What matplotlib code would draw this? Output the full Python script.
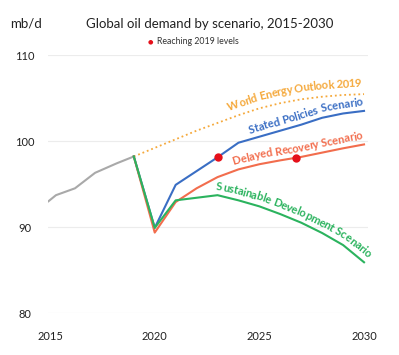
import numpy as np
import matplotlib

matplotlib.use("Agg")
import matplotlib.pyplot as plt
from matplotlib.font_manager import FontProperties

plt.rcParams["font.family"] = ["Lato", "DejaVu Sans"]

# historical demand (mb/d)
hist_years = [2014.9, 2015.28, 2016.19, 2017.15, 2018.18, 2019]
hist_vals = [92.95, 93.7, 94.5, 96.3, 97.4, 98.2]

years = [2019, 2020, 2021, 2022, 2023, 2024, 2025, 2026, 2027, 2028, 2029, 2030]
weo_2019 = [98.2, 99.2, 100.2, 101.2, 102.1, 103.0, 103.8, 104.4, 104.85, 105.15, 105.35, 105.45]
stated = [98.2, 89.9, 94.9, 96.5, 98.1, 99.8, 100.5, 101.2, 101.9, 102.7, 103.2, 103.5]
delayed = [98.2, 89.35, 92.9, 94.5, 95.8, 96.7, 97.3, 97.75, 98.15, 98.65, 99.15, 99.6]
sustainable = [98.2, 89.9, 93.1, 93.4, 93.7, 93.1, 92.4, 91.5, 90.5, 89.3, 87.9, 85.9]

# points where demand gets back to 2019 level
reach_years = [2023, 2026.75]
reach_vals = [98.1, 98.05]

x_ticks = [2015, 2020, 2025, 2030]
y_ticks = [80, 90, 100, 110]

C_GREY = "#a9a9a9"
C_WEO = "#f5a93c"
C_STEPS = "#3a6ec4"
C_DRS = "#f26d4d"
C_SDS = "#2bb35e"
C_DOT = "#e5101a"

fig = plt.figure(figsize=(3.99, 3.55), dpi=100)
ax = fig.add_axes([48 / 399, 42 / 355, 320 / 399, 258 / 355])
ax.set_xlim(2014.9, 2030.19)
ax.set_ylim(80, 110)

ax.plot(hist_years, hist_vals, color=C_GREY, lw=1.5, solid_capstyle="round")
ax.plot(years, weo_2019, color=C_WEO, lw=1.3, ls=(0, (1, 1.6)))
ax.plot(years, stated, color=C_STEPS, lw=1.5)
ax.plot(years, delayed, color=C_DRS, lw=1.5)
ax.plot(years, sustainable, color=C_SDS, lw=1.5)
ax.plot(reach_years, reach_vals, "o", color=C_DOT, ms=6, mec="none", zorder=5)

ax.set_xticks(x_ticks)
ax.set_yticks(y_ticks)
ax.grid(axis="y", color="#ececec", lw=0.8)
ax.tick_params(length=0, labelsize=8, colors="#222222")
ax.tick_params(axis="y", pad=16.5)
ax.tick_params(axis="x", pad=13)
for lbl in ax.get_yticklabels():
    lbl.set_horizontalalignment("center")
for s in ax.spines.values():
    s.set_visible(False)

fig.text(10 / 399, 1 - 24 / 355, "mb/d", fontsize=9.5, color="#222222", va="center")
fig.text(210 / 399, 1 - 24 / 355, "Global oil demand by scenario, 2015-2030",
         fontsize=9.5, color="#222222", ha="center", va="center")
fig.text(150 / 399, 1 - 42 / 355, "\u25cf", color=C_DOT, fontsize=4.5,
         ha="center", va="center", family="DejaVu Sans")
fig.text(157 / 399, 1 - 42 / 355, "Reaching 2019 levels", fontsize=6.3,
         color="#333333", va="center")

renderer = fig.canvas.get_renderer()


def curved_label(xs, ys, text, x_start, x_end, color, offset=5.5, size=8):
    """Lay the text letter by letter along the line, just above it."""
    pts = ax.transData.transform(np.column_stack([xs, ys]))
    seg = np.diff(pts, axis=0)
    cum = np.concatenate([[0], np.cumsum(np.hypot(seg[:, 0], seg[:, 1]))])

    def point(s):
        if s <= 0:
            d = seg[0] / np.hypot(*seg[0])
            return pts[0] + d * s
        if s >= cum[-1]:
            d = seg[-1] / np.hypot(*seg[-1])
            return pts[-1] + d * (s - cum[-1])
        return np.array([np.interp(s, cum, pts[:, 0]), np.interp(s, cum, pts[:, 1])])

    def arc_at(xd):
        px = ax.transData.transform((xd, 0))[0]
        if px > pts[-1, 0]:
            return cum[-1] + (px - pts[-1, 0]) / (seg[-1, 0] / np.hypot(*seg[-1]))
        return np.interp(px, pts[:, 0], cum)

    prop = FontProperties(family=["Lato", "DejaVu Sans"], weight="bold", size=size)
    w_all = renderer.get_text_width_height_descent(text, prop, ismath=False)[0]
    s0, s1 = arc_at(x_start), arc_at(x_end)
    track = (s1 - s0 - w_all) / max(len(text) - 1, 1)
    for i, ch in enumerate(text):
        w_pre = renderer.get_text_width_height_descent(text[:i], prop, ismath=False)[0] if i else 0
        w_ch = renderer.get_text_width_height_descent(text[: i + 1], prop, ismath=False)[0] - w_pre
        if ch == " ":
            continue
        s = s0 + w_pre + i * track + w_ch / 2
        a, b = point(s - 7), point(s + 7)
        d = (b - a) / np.hypot(*(b - a))
        n = np.array([-d[1], d[0]])
        p = point(s) + n * offset
        xd, yd = ax.transData.inverted().transform(p)
        ang = np.degrees(np.arctan2(d[1], d[0]))
        ax.text(xd, yd, ch, color=color, fontproperties=prop, ha="center",
                va="baseline", rotation=ang, rotation_mode="anchor")


curved_label(years, weo_2019, "World Energy Outlook 2019", 2023.68, 2029.89, C_WEO, offset=7.5)
curved_label(years, stated, "Stated Policies Scenario", 2024.63, 2030.0, C_STEPS)
curved_label(years, delayed, "Delayed Recovery Scenario", 2023.83, 2030.0, C_DRS)
curved_label(years, sustainable, "Sustainable Development Scenario", 2022.88, 2030.0, C_SDS)

fig.savefig("out.png", dpi=100, facecolor="white")
